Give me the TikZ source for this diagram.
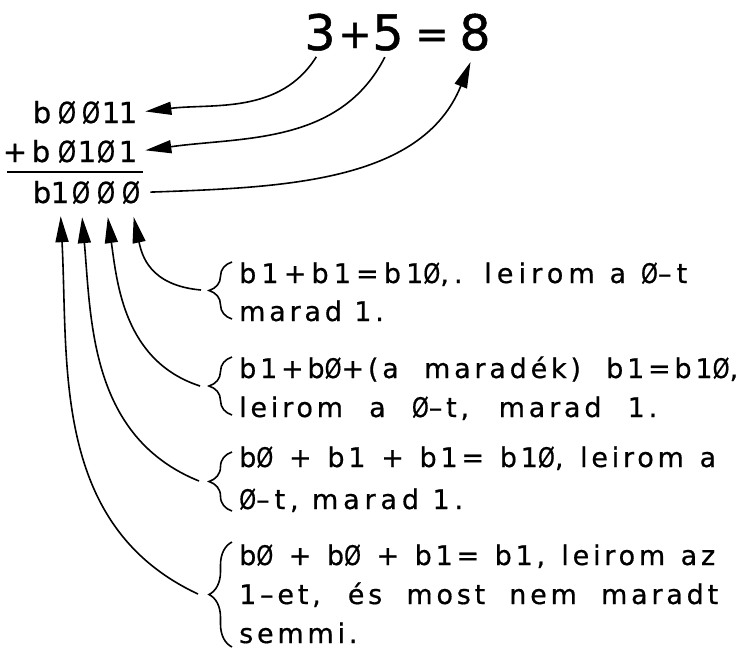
\documentclass[tikz,border=0pt]{standalone}
\usepackage{fontspec}
\setmainfont{DejaVu Sans}
\usetikzlibrary{arrows.meta,decorations.pathreplacing,calc}
\newcommand\zr{\scalebox{0.8}[1]{Ø}}
\newcommand\txtfont[1]{\fontsize{27}{#1}\selectfont\addfontfeature{LetterSpace=14,FakeBold=0.6}}
\begin{document}
\begin{tikzpicture}[x=1pt,y=1pt,
  eq/.style={font=\fontsize{49}{49}\selectfont\addfontfeature{FakeBold=1}, inner sep=0, anchor=base},
  eqop/.style={font=\fontsize{40}{40}\selectfont\addfontfeature{FakeBold=1}, inner sep=0, anchor=base},
  bin/.style={font=\fontsize{29}{29}\selectfont\addfontfeature{FakeBold=0.7}, inner sep=0, anchor=base},
  txt/.style={inner sep=0, anchor=base west},
  arr/.style={line width=1.6pt, -{Triangle[length=26pt,width=13pt]}},
  brc/.style={line width=1.6pt, decorate, decoration={brace, amplitude=23pt, aspect=0.5}}]
\useasboundingbox (0,0) rectangle (743,-654);
% equation
\node[eq] (n3) at (320,-50) {3};
\node[eqop] (plus) at (355,-48) {+};
\node[eq] (n5) at (388,-50) {5};
\node[eqop] (eqs) at (432,-48) {=};
\node[eq] (n8) at (475,-50) {8};
% row 1
\node[bin] (a1) at (42,-123) {b};
\node[bin] (a2) at (67,-123) {\zr};
\node[bin] (a3) at (91,-123) {\zr};
\node[bin] (a4) at (111,-123) {1};
\node[bin] (a5) at (128,-123) {1};
% row 2
\node[bin] (p0) at (15,-162) {+};
\node[bin] (p1) at (41,-162) {b};
\node[bin] (p2) at (67,-162) {\zr};
\node[bin] (p3) at (87,-162) {1};
\node[bin] (p4) at (106,-162) {\zr};
\node[bin] (p5) at (128,-162) {1};
% rule
\coordinate (rl) at (7,-172);
\coordinate (rr) at (143,-172);
\draw[line width=1.6pt] (rl) -- (rr);
% row 3
\node[bin] (s1) at (42,-203) {b};
\node[bin] (d1) at (60,-203) {1};
\node[bin] (d2) at (81,-203) {\zr};
\node[bin] (d3) at (106,-203) {\zr};
\node[bin] (d4) at (131,-203) {\zr};
% top arrows
\draw[arr, shorten <=7pt, shorten >=8pt] (n3.south) to[out=-122, in=7] (a5.east);
\draw[arr, shorten <=7pt, shorten >=8pt] (n5.south) to[out=-117, in=8] (p5.east);
\draw[arr, shorten <=10pt, shorten >=12pt] (d4.east) to[out=2, in=-112] (n8.south);
% text blocks
\node[txt] (t1) at (239,-283) {\txtfont{38}%
  \begin{tabular}[t]{@{}l@{}}{\addfontfeature{LetterSpace=19}\makebox[448pt][s]{b1+b1=b1\zr,. leirom a \zr–t}}\\marad 1.\end{tabular}};
\node[txt] (t2) at (239,-378) {\txtfont{39}%
  \begin{tabular}[t]{@{}l@{}}\makebox[499pt][s]{b1+b\zr+(a maradék) b1=b1\zr,}\\\makebox[418pt][s]{leirom a \zr–t, marad 1.}\end{tabular}};
\node[txt] (t3) at (239,-467) {\txtfont{42}%
  \begin{tabular}[t]{@{}l@{}}\makebox[477pt][s]{b\zr{} + b1 + b1= b1\zr, leirom a}\\{\addfontfeature{LetterSpace=18}\zr–t, marad 1.}\end{tabular}};
\node[txt] (t4) at (239,-565) {\txtfont{39}%
  \begin{tabular}[t]{@{}l@{}}\makebox[476pt][s]{b\zr{} + b\zr{} + b1= b1, leirom az}\\\makebox[479pt][s]{1–et, és most nem maradt}\\semmi.\end{tabular}};
% braces
\draw[brc] (232,-319) -- (232,-262);
\draw[brc] (232,-415) -- (232,-357);
\draw[brc] (232,-511) -- (232,-452);
\draw[brc] (232,-647) -- (232,-542);
% brace tips
\coordinate (c1) at (201,-290);
\coordinate (c2) at (200,-386);
\coordinate (c3) at (199,-481);
\coordinate (c4) at (198,-594);
% bottom arrows
\draw[arr, shorten >=13pt] (c1) to[out=175, in=-78, looseness=1.2] (d4.south);
\draw[arr, shorten >=13pt] (c2) to[out=162, in=-82] (d3.south);
\draw[arr, shorten >=13pt] (c3) to[out=158, in=-85] (d2.south);
\draw[arr, shorten >=13pt] (c4) to[out=155, in=-87] (d1.south);
\end{tikzpicture}
\end{document}
